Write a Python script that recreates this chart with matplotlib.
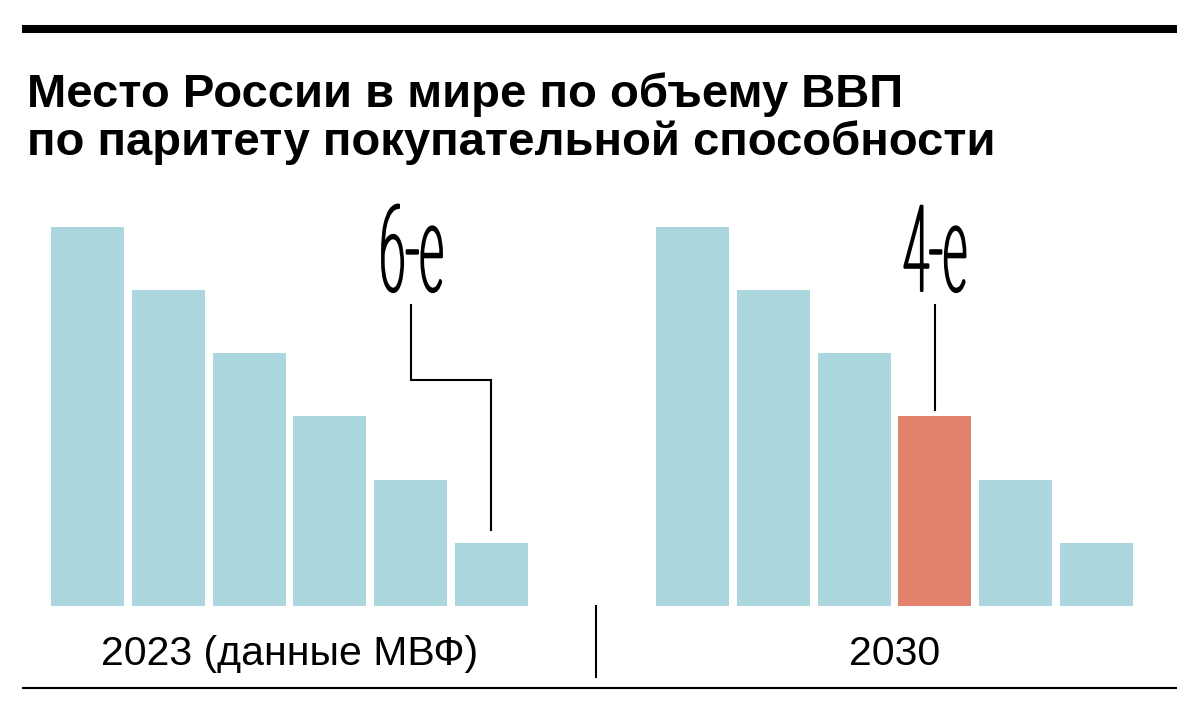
import matplotlib
matplotlib.use("Agg")
import matplotlib.pyplot as plt
from matplotlib import patheffects
from matplotlib.transforms import Affine2D

# ---- data ----
title_lines = ["Место России в мире по объему ВВП",
               "по паритету покупательной способности"]
panel_labels = ["2023 (данные МВФ)", "2030"]
bar_values_2023 = [6, 5, 4, 3, 2, 1]
bar_values_2030 = [6, 5, 4, 3, 2, 1]
russia_rank = [6, 4]
rank_labels = ["6-е", "4-е"]

BLUE = "#ADD7DE"
ORANGE = "#E2816C"
W, H = 1200, 708


class Squeeze(patheffects.AbstractPathEffect):
    """Horizontally condense the glyph outlines around their centre, with an outline stroke."""
    def __init__(self, sx, stroke_pt=0.0):
        super().__init__()
        self.sx = sx
        self.stroke_pt = stroke_pt

    def draw_path(self, renderer, gc, tpath, affine, rgbFace=None):
        ext = tpath.get_extents(affine)
        cx = (ext.x0 + ext.x1) / 2
        t = affine + Affine2D().translate(-cx, 0).scale(self.sx, 1).translate(cx, 0)
        gc0 = renderer.new_gc()
        gc0.copy_properties(gc)
        gc0.set_linewidth(self.stroke_pt)
        gc0.set_foreground(rgbFace if rgbFace is not None else "black")
        gc0.set_joinstyle("round")
        renderer.draw_path(gc0, tpath, t, rgbFace)
        gc0.restore()


fig = plt.figure(figsize=(W / 100, H / 100), dpi=100)
fig.patch.set_facecolor("white")


def fx(px):
    return px / W


def fy(py):
    return 1 - py / H


# top thick rule and bottom thin rule
fig.add_artist(plt.Line2D([fx(22), fx(1177)], [fy(29), fy(29)], color="black", lw=5.8, solid_capstyle="butt"))
fig.add_artist(plt.Line2D([fx(22), fx(1177)], [fy(688), fy(688)], color="black", lw=1.5, solid_capstyle="butt"))
# separator
fig.add_artist(plt.Line2D([fx(596), fx(596)], [fy(606), fy(677)], color="black", lw=1.5))

# title
for i, line in enumerate(title_lines):
    fig.text(fx(27), fy(107 + 48 * i), line, fontsize=34, fontweight="bold",
             family="Liberation Sans", ha="left", va="baseline", color="black")

width = 0.907
unit_px = 63.17
ylim_top = 6.7
ax_h_px = ylim_top * unit_px
bar_w_px = 477

panels = [(51, bar_values_2023, None), (656, bar_values_2030, russia_rank[1])]
axes = []
for k, (left_px, vals, hl) in enumerate(panels):
    ax = fig.add_axes([fx(left_px), fy(606), bar_w_px / W, ax_h_px / H])
    xs = list(range(len(vals)))
    colors = [ORANGE if (hl is not None and i == hl - 1) else BLUE for i in xs]
    ax.bar(xs, vals, width=width, color=colors, linewidth=0)
    ax.set_xlim(-width / 2, len(vals) - 1 + width / 2)
    ax.set_ylim(0, ylim_top)
    ax.axis("off")
    ax.text(0.5, -(654 - 606) / ax_h_px, panel_labels[k], transform=ax.transAxes,
            ha="center", va="center", fontsize=29.5, family="Liberation Sans", color="black")
    axes.append(ax)

# leader lines and rank labels
axL, axR = axes
r = russia_rank[0] - 1  # index of Russia bar 2023
axL.plot([r - 1, r - 1, r, r], [4.77, 3.58, 3.58, bar_values_2023[r] + 0.2],
         color="black", lw=1.5, clip_on=False, solid_joinstyle="miter")
axL.text(r - 1, 4.99, rank_labels[0], ha="center", va="baseline", fontsize=86,
         family="Roboto", fontweight="light", color="black", clip_on=False,
         path_effects=[Squeeze(0.40, 1.7)])

r2 = russia_rank[1] - 1
axR.plot([r2, r2], [4.77, bar_values_2030[r2] + 0.1], color="black", lw=1.5, clip_on=False)
axR.text(r2, 4.99, rank_labels[1], ha="center", va="baseline", fontsize=86,
         family="Roboto", fontweight="light", color="black", clip_on=False,
         path_effects=[Squeeze(0.40, 1.7)])

fig.savefig("out.png", dpi=100, facecolor="white")
